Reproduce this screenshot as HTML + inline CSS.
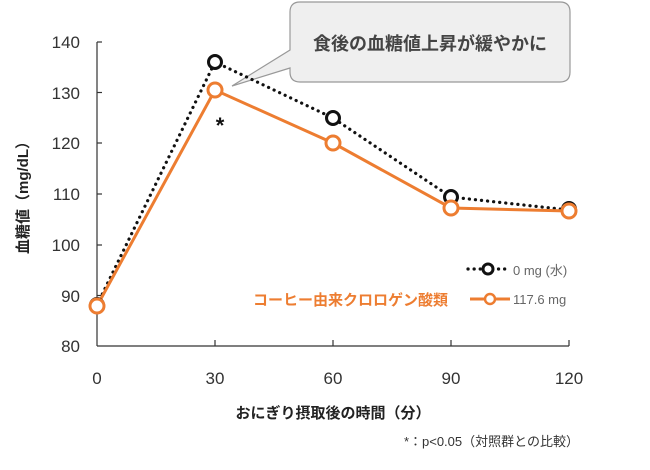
<!DOCTYPE html>
<html><head><meta charset="utf-8"><style>
body{margin:0;background:#fff;width:650px;height:465px;overflow:hidden}
svg text{font-family:"Liberation Sans","Noto Sans CJK JP",sans-serif}
</style></head><body>
<svg width="650" height="465" viewBox="0 0 650 465">
<g stroke="#333" stroke-width="1.2" fill="none">
<line x1="97" y1="42" x2="97" y2="346"/>
<line x1="97" y1="346" x2="569" y2="346"/>
<line x1="97" y1="42" x2="102" y2="42"/><line x1="97" y1="92.5" x2="102" y2="92.5"/>
<line x1="97" y1="143" x2="102" y2="143"/><line x1="97" y1="194" x2="102" y2="194"/>
<line x1="97" y1="245" x2="102" y2="245"/><line x1="97" y1="295.5" x2="102" y2="295.5"/>
<line x1="215" y1="340" x2="215" y2="346"/><line x1="333" y1="340" x2="333" y2="346"/>
<line x1="451" y1="340" x2="451" y2="346"/><line x1="569" y1="340" x2="569" y2="346"/>
</g>
<g font-size="17" fill="#333" text-anchor="end">
<text x="80" y="48">140</text><text x="80" y="99">130</text><text x="80" y="149">120</text>
<text x="80" y="200">110</text><text x="80" y="251">100</text><text x="80" y="302">90</text><text x="80" y="352">80</text>
</g>
<g font-size="17" fill="#333" text-anchor="middle">
<text x="97" y="384">0</text><text x="215" y="384">30</text><text x="333" y="384">60</text>
<text x="451" y="384">90</text><text x="569" y="384">120</text>
</g>
<text x="333" y="418" font-size="15" font-weight="bold" text-anchor="middle" fill="#222">おにぎり摂取後の時間（分）</text>
<text x="28" y="194" font-size="15" font-weight="bold" fill="#222" text-anchor="middle" transform="rotate(-90 28 194)">血糖値（mg/dL）</text>
<text x="579" y="446" font-size="13" fill="#333" text-anchor="end">*：p&lt;0.05（対照群との比較）</text>
<path d="M300 2 H560 Q570 2 570 12 V72 Q570 82 560 82 H300 Q290 82 290 72 V68 L232 86 L290 50 V12 Q290 2 300 2Z" fill="#efefef" stroke="#999" stroke-width="1.2"/>
<text x="430" y="50" font-size="18" font-weight="bold" fill="#444" text-anchor="middle">食後の血糖値上昇が緩やかに</text>
<polyline points="97,305 215,62 333,118 451,197 569,210" fill="none" stroke="#111" stroke-width="3.2" stroke-dasharray="0.1,6" stroke-linecap="round"/>
<polyline points="97,306 215,90 333,143 451,208 569,211" fill="none" stroke="#ed7d31" stroke-width="3"/>
<g fill="#fff" stroke="#111" stroke-width="3">
<circle cx="97" cy="305" r="6.5"/><circle cx="215" cy="62" r="6.5"/><circle cx="333" cy="118" r="6.5"/>
<circle cx="451" cy="197" r="6.5"/><circle cx="569" cy="209" r="6.5"/>
</g>
<g fill="#fff" stroke="#ed7d31" stroke-width="3">
<circle cx="97" cy="306" r="7"/><circle cx="215" cy="90" r="7"/><circle cx="333" cy="143" r="7"/>
<circle cx="451" cy="208" r="7"/><circle cx="569" cy="211" r="7"/>
</g>
<text x="220" y="133" font-size="22" font-weight="bold" fill="#111" text-anchor="middle">*</text>
<line x1="468" y1="269" x2="506" y2="269" stroke="#111" stroke-width="3.2" stroke-dasharray="0.1,6" stroke-linecap="round"/>
<circle cx="488" cy="269" r="5" fill="#fff" stroke="#111" stroke-width="3"/>
<text x="513" y="275" font-size="13" fill="#666">0 mg (水)</text>
<line x1="470" y1="299" x2="510" y2="299" stroke="#ed7d31" stroke-width="3"/>
<circle cx="490" cy="299" r="5" fill="#fff" stroke="#ed7d31" stroke-width="2.5"/>
<text x="513" y="304" font-size="13" fill="#666">117.6 mg</text>
<text x="448" y="305" font-size="15" font-weight="bold" fill="#ed7d31" text-anchor="end">コーヒー由来クロロゲン酸類</text>
</svg>
</body></html>
